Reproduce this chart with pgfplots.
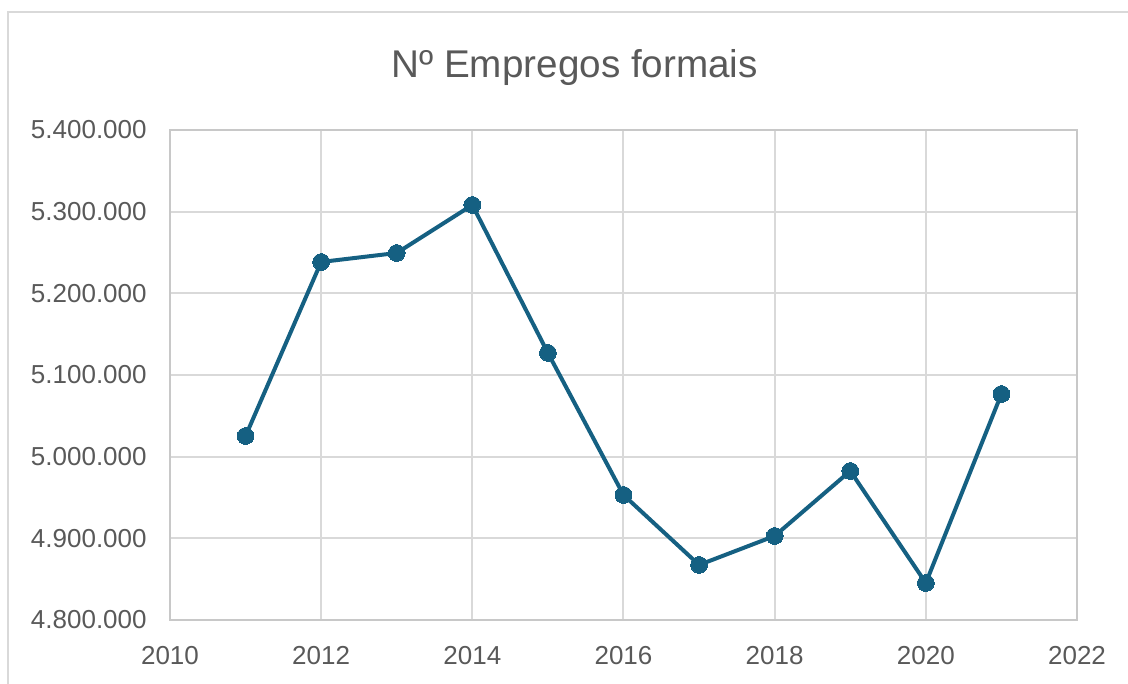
\documentclass[border=0pt]{standalone}
\usepackage{pgfplots}
\pgfplotsset{compat=1.18}
\usepackage{fontspec}
\setmainfont{Liberation Sans}
\definecolor{linec}{HTML}{156082}
\definecolor{txt}{HTML}{595959}
\definecolor{gridc}{HTML}{D9D9D9}
\definecolor{axc}{HTML}{C8C8C8}
\begin{document}
\begin{tikzpicture}
\useasboundingbox (0,0) rectangle (846pt,513pt);
\clip (0,0) rectangle (846pt,513pt);
\draw[gridc, line width=1.5pt] (6pt,-10pt) rectangle (870pt,504pt);
\node[anchor=base, text=txt, font=\fontsize{29}{33}\selectfont] at (431pt,455pt) {Nº Empregos formais};
\begin{axis}[
  at={(127.5pt,48pt)}, anchor=south west,
  scale only axis, width=680.25pt, height=367.5pt,
  xmin=2010, xmax=2022, ymin=4800000, ymax=5400000,
  xtick={2010,2012,...,2022},
  ytick={4800000,4900000,...,5400000},
  scaled y ticks=false,
  /pgf/number format/assume math mode=true,
  yticklabel style={/pgf/number format/.cd, fixed, precision=0, 1000 sep={.}},
  xticklabel style={/pgf/number format/.cd, 1000 sep={}},
  ticklabel style={text=txt, font=\fontsize{19.5}{22}\selectfont},
  major tick length=0pt,
  grid=major,
  major grid style={gridc, line width=1.5pt},
  axis line style={axc, line width=1.5pt},
  yticklabel shift=14pt,
  xticklabel shift=16pt,
]
\addplot[linec, line width=3pt, mark=*, mark size=6.3pt, mark options={fill=linec, draw=linec, line width=0pt}]
coordinates {
(2011,5025300)
(2012,5238400)
(2013,5249400)
(2014,5308200)
(2015,5127000)
(2016,4953100)
(2017,4867400)
(2018,4902900)
(2019,4982500)
(2020,4845300)
(2021,5076700)
};
\end{axis}
\end{tikzpicture}
\end{document}
